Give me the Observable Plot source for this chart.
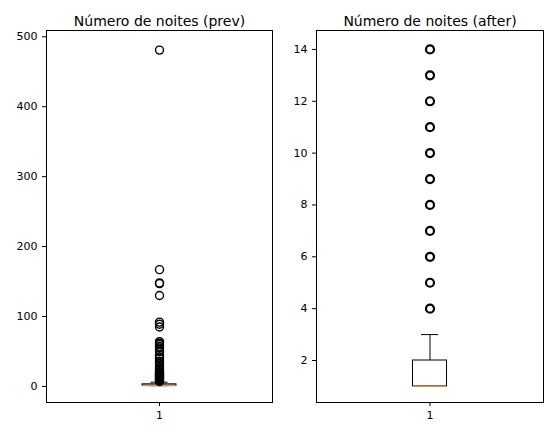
<!DOCTYPE html><html><head><meta charset="utf-8">
<script src="https://cdn.jsdelivr.net/npm/d3@7"></script>
<script src="https://cdn.jsdelivr.net/npm/@observablehq/plot@0.6"></script>
<style>body{margin:0;background:#fff}#c{display:flex}svg{overflow:visible}</style></head><body><div id="c"></div>
<script>
const titles = ["Número de noites (prev)", "Número de noites (after)"];
const prevStats = {q1: 1, med: 1, q3: 3, lo: 1, hi: 6};
const prevOutliers = [481,167,148,147,130,92,89,85,64,62,60,57,55,50,45,42,40,36,33,30,27,25,23,21,20,19,18,17,16,15,14,13,12,11,10,9,8,7];
const afterStats = {q1: 1, med: 1, q3: 2, lo: 1, hi: 3};
const afterOutliers = [4,5,6,7,8,9,10,11,12,13,14];
const prevTicks = [0,100,200,300,400,500];
const afterTicks = [2,4,6,8,10,12,14];

function panel(title, s, out, ticks, ydom, width, ml, mr, sw) {
  const marks = [
    Plot.frame({stroke: "black"}),
    Plot.ruleX([s], {x: 1, y1: "q3", y2: "hi", stroke: "black"}),
    Plot.ruleX([s], {x: 1, y1: "lo", y2: "q1", stroke: "black"}),
    Plot.ruleY([s], {y: "hi", x1: 0.9625, x2: 1.0375, stroke: "black"}),
    Plot.ruleY([s], {y: "lo", x1: 0.9625, x2: 1.0375, stroke: "black"}),
    Plot.rect([s], {x1: 0.925, x2: 1.075, y1: "q1", y2: "q3", fill: "none", stroke: "black"}),
    Plot.ruleY([s], {y: "med", x1: 0.925, x2: 1.075, stroke: "#e0924a", strokeWidth: 1.2}),
    Plot.dot(out, {x: () => 1, y: d => d, r: 4, stroke: "black", strokeWidth: sw, fill: "none"}),
    Plot.text([title], {frameAnchor: "top", dy: -14, text: d => d, fontSize: 14, fill: "black"})
  ];
  return Plot.plot({
    width, height: 436, marginTop: 30, marginBottom: 34, marginLeft: ml, marginRight: mr,
    style: {fontFamily: "DejaVu Sans", fontSize: "11px", color: "black", overflow: "visible"},
    x: {domain: [0.5, 1.5], ticks: [1], tickFormat: d => "1", label: null, tickSize: 4},
    y: {domain: ydom, ticks, label: null, tickSize: 4},
    marks
  });
}
const c = document.getElementById("c");
c.append(panel(titles[0], prevStats, prevOutliers, prevTicks, [-23, 509], 280, 46, 8, 1.4));
c.append(panel(titles[1], afterStats, afterOutliers, afterTicks, [0.38, 14.73], 272, 36, 9, 2.2));
</script></body></html>
